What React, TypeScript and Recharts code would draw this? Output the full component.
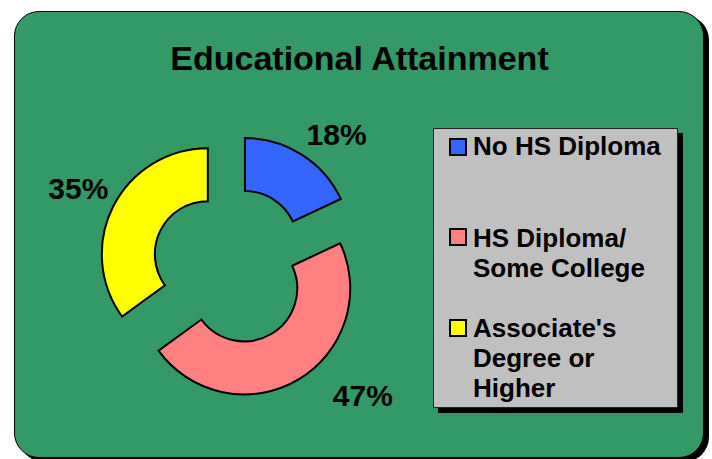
import React from 'react';
import { PieChart, Pie, Cell, Legend } from 'recharts';

const categories = ['No HS Diploma', 'HS Diploma/ Some College', "Associate's Degree or Higher"];
const legendLines = [['No HS Diploma'], ['HS Diploma/', 'Some College'], ["Associate's", 'Degree or', 'Higher']];
const shares = [18, 47, 35];
const valueLabels = ['18%', '47%', '35%'];
const colors = ['#3366FF', '#FF8080', '#FFFF00'];
const title = 'Educational Attainment';

const data = categories.map((name, i) => ({ name, value: shares[i] }));

const FONT = '"Liberation Sans", Arial, Helvetica, sans-serif';
const CX = 231;
const CY = 266;
const OUTER = 106;
const INNER = 53;
const EXPLODE = 26;
const LABEL_R = 115;
const LABEL_NUDGE = [
  [0, -2],
  [30, 19],
  [3, -3],
];
const RAD = Math.PI / 180;

const total = shares.reduce((a, b) => a + b, 0);
let acc = 0;
const midAngles = shares.map((v) => {
  const m = 90 - ((acc + v / 2) / total) * 360;
  acc += v;
  return m;
});
const offsets = midAngles.map((m) => [EXPLODE * Math.cos(m * RAD), -EXPLODE * Math.sin(m * RAD)]);

const makeLabel = (k: number) => (props: any) => {
  const { cx, cy, midAngle, index } = props;
  if (index !== k) return null;
  const x = cx + LABEL_R * Math.cos(-midAngle * RAD) + LABEL_NUDGE[k][0];
  const y = cy + LABEL_R * Math.sin(-midAngle * RAD) + LABEL_NUDGE[k][1];
  const right = Math.cos(-midAngle * RAD) >= 0;
  return (
    <text
      x={x}
      y={y}
      textAnchor={right ? 'start' : 'end'}
      fill="#000"
      fontFamily={FONT}
      fontWeight="bold"
      fontSize={30}
    >
      {valueLabels[index]}
    </text>
  );
};

const itemTextTops = [2, 94, 184];
const itemSquareTops = [9, 99, 190];

const LegendBox = () => (
  <div
    style={{
      position: 'relative',
      boxSizing: 'border-box',
      width: 245,
      height: 280,
      background: '#C0C0C0',
      border: '1px solid #222',
      boxShadow: '5px 5px 0 #000',
      fontFamily: FONT,
      fontWeight: 'bold',
      fontSize: 26,
      color: '#000',
    }}
  >
    {legendLines.map((lines, i) => (
      <React.Fragment key={i}>
        <div
          style={{
            position: 'absolute',
            left: 15,
            top: itemSquareTops[i],
            width: 18,
            height: 18,
            boxSizing: 'border-box',
            border: '2px solid #000',
            background: colors[i],
          }}
        />
        <div
          style={{
            position: 'absolute',
            left: 39,
            top: itemTextTops[i],
            lineHeight: '30px',
            whiteSpace: 'nowrap',
          }}
        >
          {lines.map((l, j) => (
            <div key={j}>{l}</div>
          ))}
        </div>
      </React.Fragment>
    ))}
  </div>
);

export default function App() {
  return (
    <div
      style={{
        position: 'absolute',
        left: 0,
        top: 0,
        width: 712,
        height: 459,
        overflow: 'hidden',
        background: '#fff',
      }}
    >
      <div
        style={{
          position: 'absolute',
          left: 14,
          top: 11,
          width: 690,
          height: 447,
          boxSizing: 'border-box',
          border: '1.5px solid #000',
          borderRadius: 25,
          background: '#339966',
          boxShadow: '5px 4px 0 #000',
        }}
      />
      <div
        style={{
          position: 'absolute',
          left: 59.5,
          top: 41,
          width: 600,
          textAlign: 'center',
          fontFamily: FONT,
          fontWeight: 'bold',
          fontSize: 34,
          lineHeight: '34px',
          color: '#000',
          whiteSpace: 'nowrap',
        }}
      >
        {title}
      </div>
      <div style={{ position: 'absolute', left: 0, top: 0 }}>
        <PieChart width={712} height={459} margin={{ top: 0, right: 0, bottom: 0, left: 0 }}>
          {data.map((_, k) => (
            <Pie
              key={k}
              data={data}
              dataKey="value"
              nameKey="name"
              cx={CX + offsets[k][0]}
              cy={CY + offsets[k][1]}
              innerRadius={INNER}
              outerRadius={OUTER}
              startAngle={90}
              endAngle={-270}
              stroke="#000"
              strokeWidth={2}
              isAnimationActive={false}
              labelLine={false}
              label={makeLabel(k)}
              legendType="none"
            >
              {data.map((d, i) => (
                <Cell
                  key={i}
                  fill={i === k ? colors[i] : 'none'}
                  stroke={i === k ? '#000' : 'none'}
                />
              ))}
            </Pie>
          ))}
          <Legend
            layout="vertical"
            align="right"
            verticalAlign="middle"
            wrapperStyle={{ left: 433, top: 128, right: 'auto', bottom: 'auto', width: 245, height: 280 }}
            content={() => <LegendBox />}
          />
        </PieChart>
      </div>
    </div>
  );
}
